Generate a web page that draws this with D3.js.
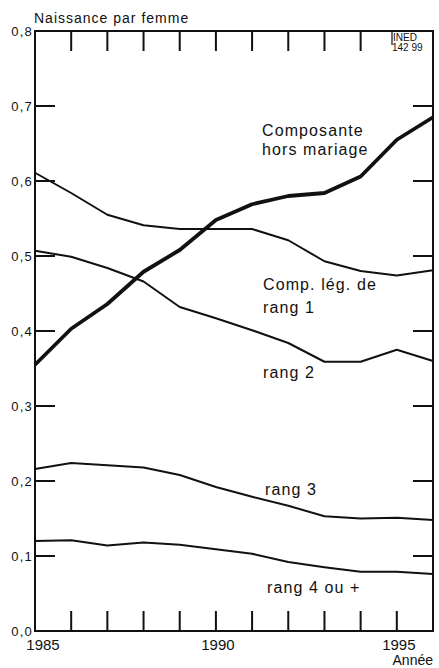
<!DOCTYPE html>
<html>
<head>
<meta charset="utf-8">
<script src="https://cdn.jsdelivr.net/npm/d3@7"></script>
<style>
  body { margin: 0; background: #fff; }
  svg text { font-family: "Liberation Sans", Arial, sans-serif; fill: #111; }
</style>
</head>
<body>
<svg id="chart" width="439" height="668"></svg>
<script>
// years and values
const years = [1985, 1986, 1987, 1988, 1989, 1990, 1991, 1992, 1993, 1994, 1995, 1996];
const horsMariage = [0.355, 0.403, 0.436, 0.479, 0.508, 0.548, 0.569, 0.580, 0.584, 0.606, 0.655, 0.685];
const rang1 = [0.611, 0.584, 0.555, 0.541, 0.536, 0.536, 0.536, 0.521, 0.493, 0.480, 0.474, 0.481];
const rang2 = [0.507, 0.499, 0.484, 0.466, 0.432, 0.417, 0.401, 0.384, 0.359, 0.359, 0.375, 0.360];
const rang3 = [0.216, 0.224, 0.221, 0.218, 0.208, 0.192, 0.179, 0.167, 0.153, 0.150, 0.151, 0.148];
const rang4 = [0.120, 0.121, 0.114, 0.118, 0.115, 0.109, 0.103, 0.092, 0.085, 0.079, 0.079, 0.076];

const yTicks = [0, 0.1, 0.2, 0.3, 0.4, 0.5, 0.6, 0.7, 0.8];
const xLabels = [1985, 1990, 1995];

const svg = d3.select("#chart");
const margin = {top: 31, left: 35, right: 6, bottom: 37};
const width  = +svg.attr("width")  - margin.left - margin.right;
const height = +svg.attr("height") - margin.top - margin.bottom;

const x = d3.scaleLinear().domain([1985, 1996]).range([0, width]);
const y = d3.scaleLinear().domain([0, 0.8]).range([height, 0]);

const g = svg.append("g")
  .attr("transform", "translate(" + margin.left + "," + margin.top + ")");

const tickLen = 20;
const fmt = d => d3.format(".1f")(d).replace(".", ",");

// frame
g.append("path")
  .attr("class", "frame")
  .attr("d", "M0,0H" + width + "V" + height + "H0Z")
  .attr("fill", "none").attr("stroke", "#111").attr("stroke-width", 2);

// y labels
g.selectAll(".ylab").data(yTicks).enter().append("text")
  .attr("class", "ylab")
  .attr("x", -2)
  .attr("y", d => y(d))
  .attr("dy", "0.35em")
  .attr("text-anchor", "end")
  .attr("font-size", 13)
  .attr("letter-spacing", 1.2)
  .text(fmt);

// year labels
g.selectAll(".year")
  .data(xLabels)
  .enter().append("text")
  .attr("class", "year")
  .attr("x", d => d === 1985 ? x(d) + 8 : x(d) + 2)
  .attr("y", height + 19)
  .attr("text-anchor", "middle")
  .attr("font-size", 15)
  .text(d => d);

// lines
const line = d3.line()
  .x((d, i) => x(years[i]))
  .y(d => y(d))
  .curve(d3.curveLinear);

const series = [
  {values: rang1, w: 2},
  {values: rang2, w: 2},
  {values: rang3, w: 2},
  {values: rang4, w: 2},
  {values: horsMariage, w: 3.8}
];

g.selectAll(".serie")
  .data(series)
  .enter().append("path")
  .attr("class", "serie")
  .attr("d", d => line(d.values))
  .attr("fill", "none")
  .attr("stroke", "#111")
  .attr("stroke-width", d => d.w)
  .attr("stroke-linejoin", "round");

// INED box
svg.append("path")
  .attr("d", "M392," + margin.top + "V45")
  .attr("fill", "none")
  .attr("stroke", "#111").attr("stroke-width", 1.2);
svg.append("text").attr("x", 393).attr("y", 41).attr("font-size", 10).text("INED");
svg.append("text").attr("x", 392).attr("y", 51).attr("font-size", 10).text("142 99");

// axis titles
svg.append("text")
  .attr("x", 34).attr("y", 23)
  .attr("font-size", 14).attr("letter-spacing", 1)
  .text("Naissance par femme");

svg.append("text")
  .attr("x", 433).attr("y", 665)
  .attr("text-anchor", "end")
  .attr("font-size", 14)
  .text("Année");

// series labels
const labels = [
  {t: "Composante", x: 262, y: 136},
  {t: "hors mariage", x: 262, y: 155},
  {t: "Comp. lég. de", x: 263, y: 290},
  {t: "rang 1", x: 263, y: 313},
  {t: "rang 2", x: 263, y: 378},
  {t: "rang 3", x: 265, y: 495},
  {t: "rang 4 ou +", x: 267, y: 593}
];

svg.selectAll(".lab")
  .data(labels)
  .enter().append("text")
  .attr("class", "lab")
  .attr("x", d => d.x).attr("y", d => d.y)
  .attr("font-size", 16).attr("letter-spacing", 1.1)
  .text(d => d.t);

// inner ticks on all four sides, drawn last so they sit on top
const yInner = yTicks.slice(1, -1);
const xInner = d3.range(1986, 1996);

const tickPaths = [
  yInner.map(d => "M0," + y(d) + "h" + tickLen).join(""),
  yInner.map(d => "M" + width + "," + y(d) + "h" + (-tickLen)).join(""),
  xInner.map(d => "M" + x(d) + "," + height + "v" + (-tickLen)).join(""),
  // top: the 1995 tick sits under the INED box
  xInner.filter(d => d < 1995).map(d => "M" + x(d) + ",0v" + tickLen).join("")
];

const gt = svg.append("g")
  .attr("transform", "translate(" + margin.left + "," + margin.top + ")");
gt.selectAll(".tk").data(tickPaths).enter().append("path")
  .attr("class", "tk")
  .attr("d", d => d)
  .attr("fill", "none")
  .attr("stroke", "#111")
  .attr("stroke-width", 2);
</script>
</body>
</html>
